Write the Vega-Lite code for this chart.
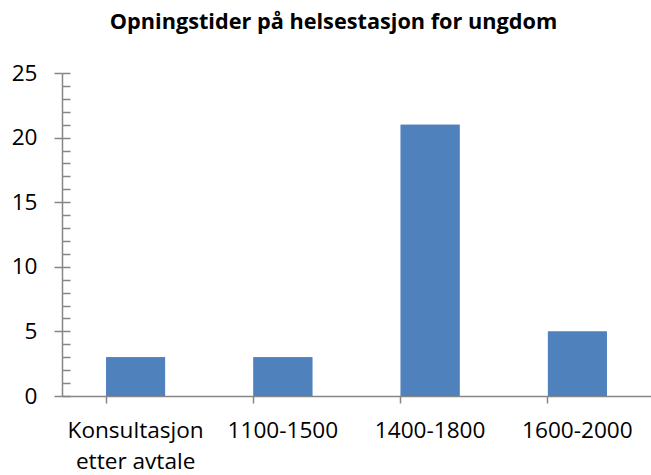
{
  "$schema": "https://vega.github.io/schema/vega-lite/v6.json",
  "width": 589,
  "height": 323,
  "autosize": {"type": "none"},
  "padding": {"left": 62, "top": 73, "right": 0, "bottom": 79},
  "background": "white",
  "title": {
    "text": "Opningstider på helsestasjon for ungdom",
    "font": "Open Sans",
    "fontSize": 21.7,
    "fontWeight": "bold",
    "color": "#000000",
    "anchor": "middle",
    "dx": -23,
    "offset": 28
  },
  "config": {
    "view": {"stroke": null},
    "axis": {"grid": false, "domainColor": "#868686", "tickColor": "#868686", "domainWidth": 1.5, "tickWidth": 1.5}
  },
  "data": {
    "values": [
      {"kategori": "Konsultasjon etter avtale", "antall": 3},
      {"kategori": "1100-1500", "antall": 3},
      {"kategori": "1400-1800", "antall": 21},
      {"kategori": "1600-2000", "antall": 5}
    ]
  },
  "encoding": {
    "x": {
      "field": "kategori",
      "type": "nominal",
      "sort": null,
      "scale": {"paddingInner": 0.6, "paddingOuter": 0.3},
      "axis": {
        "title": null,
        "labelAngle": 0,
        "bandPosition": 0,
        "tickSize": 7,
        "labelFont": "Open Sans",
        "labelFontSize": 22.6,
        "labelColor": "#000000",
        "labelPadding": 16,
        "labelLineHeight": 31,
        "labelOverlap": false,
        "labelExpr": "datum.label == 'Konsultasjon etter avtale' ? ['Konsultasjon', 'etter avtale'] : datum.label"
      }
    },
    "y": {
      "field": "antall",
      "type": "quantitative",
      "scale": {"domain": [0, 25], "nice": false}
    }
  },
  "layer": [
    {
      "mark": {"type": "bar", "color": "#4F81BD"},
      "encoding": {
        "y": {
          "field": "antall",
          "type": "quantitative",
          "scale": {"domain": [0, 25], "nice": false},
          "axis": {
            "title": null,
            "orient": "left",
            "values": [0, 5, 10, 15, 20, 25],
            "tickSize": 8,
            "labelFont": "Open Sans",
            "labelFontSize": 22.6,
            "labelColor": "#000000",
            "labelPadding": 17
          }
        }
      }
    },
    {
      "mark": {"type": "bar", "color": "#4F81BD"},
      "encoding": {
        "y": {
          "field": "antall",
          "type": "quantitative",
          "scale": {"domain": [0, 25], "nice": false},
          "axis": {
            "title": null,
            "orient": "left",
            "values": [0, 1, 2, 3, 4, 5, 6, 7, 8, 9, 10, 11, 12, 13, 14, 15, 16, 17, 18, 19, 20, 21, 22, 23, 24, 25],
            "tickSize": -8,
            "labels": false,
            "domain": false
          }
        }
      }
    }
  ],
  "resolve": {"axis": {"y": "independent"}}
}
